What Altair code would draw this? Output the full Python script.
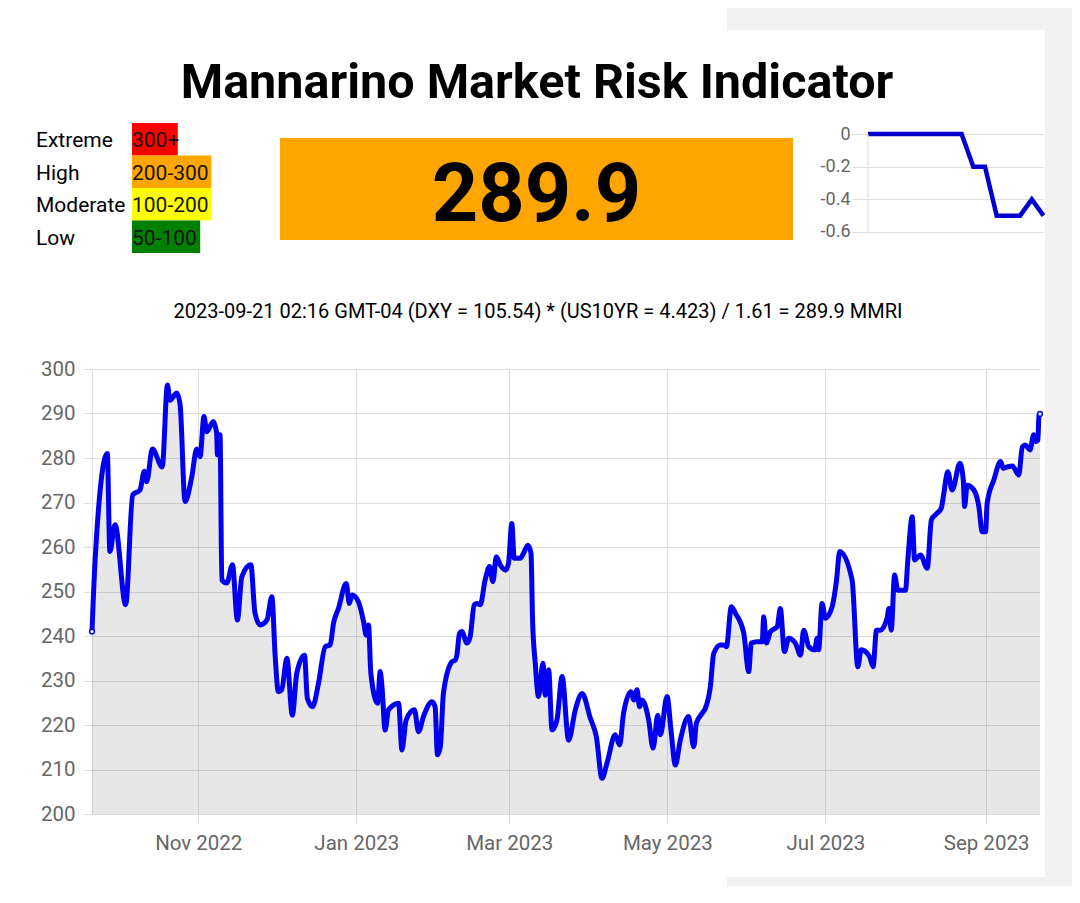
import altair as alt
import pandas as pd

# ---------------- data ----------------
START_DATE = "2022-09-21"
# days since START_DATE for each reading of the MMRI
day_offsets = [
    0.0, 1.2, 5.9, 6.9, 8.9, 13.0, 15.7, 18.5, 20.2, 21.1,
    23.3, 27.1, 29.1, 30.1, 32.7, 34.0, 35.9, 38.5, 40.4, 41.7,
    43.2, 44.3, 46.8, 48.1, 48.4, 49.4, 50.1, 52.0, 54.2, 56.1,
    57.8, 61.3, 62.9, 64.9, 67.5, 69.4, 70.7, 71.9, 73.2, 75.2,
    77.3, 79.0, 82.0, 83.1, 85.1, 87.4, 90.0, 91.9, 93.2, 95.1,
    98.1, 99.3, 100.3, 102.8, 104.8, 105.8, 106.7, 107.6, 110.2, 111.2,
    111.9, 113.1, 114.4, 118.3, 119.6, 121.2, 124.4, 126.0, 127.9, 131.2,
    132.4, 133.3, 134.4, 135.6, 138.9, 140.2, 140.8, 141.8, 142.7, 144.7,
    145.9, 147.5, 148.5, 149.8, 151.7, 153.4, 154.7, 156.0, 157.5, 159.5,
    160.7, 162.0, 162.9, 165.3, 166.5, 168.2, 169.4, 170.0, 171.0, 172.3,
    174.0, 174.9, 176.2, 177.5, 179.4, 181.4, 183.9, 186.5, 189.1, 192.3,
    194.6, 196.8, 198.7, 201.9, 203.6, 205.1, 208.0, 209.0, 210.3, 211.3,
    212.2, 214.8, 216.5, 218.3, 219.3, 221.9, 223.4, 225.1, 227.0, 230.2,
    232.2, 233.2, 235.4, 236.7, 238.6, 239.9, 242.5, 243.7, 244.8, 246.7,
    248.3, 251.5, 253.4, 254.4, 256.6, 258.6, 259.2, 260.2, 261.8, 264.4,
    265.6, 267.2, 268.8, 271.4, 273.4, 274.6, 276.6, 278.9, 279.8, 280.4,
    281.7, 283.0, 285.6, 287.3, 288.5, 293.3, 295.5, 296.8, 300.1, 301.4,
    302.7, 304.2, 306.8, 307.5, 308.4, 309.7, 310.9, 313.9, 314.8, 316.5,
    317.4, 319.7, 322.3, 323.9, 326.1, 327.7, 328.7, 330.2, 331.9, 334.9,
    336.2, 336.7, 337.7, 340.3, 342.2, 343.5, 344.8, 345.4, 348.0, 350.6,
    351.6, 353.2, 355.1, 357.6, 359.0, 360.2, 361.9, 363.4, 364.1, 365.0,
    365.4, 365.8,
]
mmri_values = [
    241, 257, 281, 259, 265, 247, 271.7, 272.8, 277, 274.7,
    282, 278, 296.4, 293, 294.6, 292, 270.2, 275.8, 282, 280.3,
    289.3, 285.9, 288.2, 285.6, 280.7, 285.2, 252.6, 251.9, 256, 243.6,
    253.3, 256, 245.1, 242.5, 243.6, 248.8, 235.3, 227.5, 227.9, 235,
    222.2, 231.6, 235.7, 226, 224.1, 229.4, 237.6, 238, 242.9, 246.2,
    251.8, 247.3, 249.2, 247.7, 243.2, 240.2, 242.5, 231.6, 224.9, 232,
    228.6, 218.9, 223.4, 224.9, 214.4, 221.1, 223.4, 218.5, 221.9, 225.2,
    224.1, 213.3, 215.1, 227.1, 234.2, 234.6, 235.7, 240.6, 241, 238.4,
    239.8, 247, 247.3, 247, 252.6, 255.6, 252.2, 257.8, 256, 254.8,
    256.3, 265.3, 257.5, 257.5, 258.6, 260.4, 258.6, 243.6, 234.2, 226.4,
    233.9, 226.7, 232.4, 218.9, 221.1, 230.9, 216.6, 223.4, 227.1, 221.5,
    217.4, 208, 211.4, 217.8, 215.5, 222.6, 227.5, 225.6, 227.9, 224.1,
    225.6, 221.1, 214.8, 222.2, 217.8, 226.4, 218.9, 211, 216.6, 221.9,
    215.1, 220.4, 222.6, 223.8, 228.6, 236.1, 238, 238, 237.6, 246.6,
    245.1, 240.6, 232, 238.4, 238.7, 238.7, 244.3, 238.4, 241, 242.1,
    246.2, 236.5, 239.5, 238.4, 235.7, 241.3, 237.6, 236.9, 239.5, 236.9,
    247.3, 244, 246.6, 252.6, 259, 252.6, 233.1, 236.9, 235.3, 233.1,
    241.3, 241.3, 244, 246.2, 241.3, 253.7, 250.3, 250.3, 257.1, 266.8,
    257.1, 258.2, 255.2, 266.1, 267.6, 268.7, 272.1, 276.9, 272.8, 278.8,
    275.1, 269.1, 273.9, 272.8, 269.1, 263.4, 263.4, 269.8, 275.1, 279.2,
    277.7, 278, 278.2, 276.2, 282.5, 282.9, 281.8, 285.2, 283.7, 284,
    289.7, 289.9,
]

levels = ["Extreme", "High", "Moderate", "Low"]
level_ranges = ["300+", "200-300", "100-200", "50-100"]
level_lower = [300, 200, 100, 50]
level_colors = ["#ff0000", "#ffa500", "#ffff00", "#008000"]

title_text = "Mannarino Market Risk Indicator"
current_mmri = 289.9
timestamp = "2023-09-21 02:16 GMT-04"
dxy = 105.54
us10yr = 4.423
divisor = 1.61

change_steps = list(range(16))
change_values = [0, 0, 0, 0, 0, 0, 0, 0, 0, -0.2, -0.2, -0.5, -0.5, -0.5, -0.4, -0.5]
change_ticks = [0, -0.2, -0.4, -0.6]

month_ticks = [(2022, 11), (2023, 1), (2023, 3), (2023, 5), (2023, 7), (2023, 9)]
y_ticks = list(range(200, 301, 10))

# ---------------- styling ----------------
FONT = "Roboto"
GRID = "#dddddd"
LABEL = "#666666"
LINE_BLUE = "#0000ee"
BG_GRAY = "#f1f1f1"

current_color = next(c for lo, c in zip(level_lower, level_colors) if current_mmri >= lo)

# ---------------- legend (risk levels) ----------------
legend_df = pd.DataFrame({"level": levels, "range": level_ranges, "color": level_colors})
ly = alt.Y("level:N", sort=levels,
           scale=alt.Scale(domain=levels, paddingInner=0, paddingOuter=0), axis=None)
legend_base = alt.Chart(legend_df).encode(y=ly)
legend_rects = legend_base.transform_calculate(
    x0="40", x1="41 + 11.2 * length(datum.range)"
).mark_rect().encode(
    x=alt.X("x0:Q", scale=alt.Scale(domain=[0, 113], nice=False, zero=False), axis=None),
    x2="x1:Q",
    color=alt.Color("color:N", scale=None, legend=None),
)
legend_names = legend_base.mark_text(
    align="left", baseline="middle", fontSize=21, dy=2, color="#000000"
).encode(x=alt.value(-56), text="level:N")
legend_range_txt = legend_base.mark_text(
    align="left", baseline="middle", fontSize=21, dy=2, color="#141414"
).encode(x=alt.value(40), text="range:N")
legend = alt.layer(legend_rects, legend_names, legend_range_txt).properties(width=113, height=130)

# ---------------- big value box + title ----------------
box_df = pd.DataFrame({"mmri": [current_mmri], "color": [current_color], "title": [title_text]})
box_rect = alt.Chart(box_df).mark_rect().encode(
    x=alt.value(0), x2=alt.value(513), y=alt.value(15), y2=alt.value(117),
    color=alt.Color("color:N", scale=None, legend=None),
)
box_value = alt.Chart(box_df).mark_text(
    fontSize=81, fontWeight="bold", align="center", baseline="alphabetic", color="#000000"
).encode(x=alt.value(256.5), y=alt.value(98), text=alt.Text("mmri:Q", format=".1f"))
box_title = alt.Chart(box_df).mark_text(
    fontSize=48.5, fontWeight="bold", align="center", baseline="alphabetic", color="#000000"
).encode(x=alt.value(257), y=alt.value(-25), text="title:N")
box = alt.layer(box_rect, box_value, box_title).properties(width=513, height=130)

# ---------------- mini change chart ----------------
mini_df = pd.DataFrame({"step": change_steps, "change": change_values})
mini_y = alt.Y(
    "change:Q",
    scale=alt.Scale(domain=[-0.7286, 0.0674], nice=False, zero=False),
    axis=alt.Axis(values=change_ticks, title=None, domain=False, grid=True,
                  gridColor=GRID, tickColor=GRID, tickSize=16, labelPadding=2,
                  labelFontSize=18, labelColor=LABEL,
                  labelExpr="datum.value == 0 ? '0' : '-' + format(abs(datum.value), '.1f')"),
)
mini_rule = alt.Chart(pd.DataFrame({"top": [max(change_ticks)], "bottom": [min(change_ticks)]})).mark_rule(
    color=GRID
).encode(x=alt.value(0), y=alt.Y("top:Q"), y2="bottom:Q")
mini_line = alt.Chart(mini_df).mark_line(color="#0000cc", strokeWidth=4.5).encode(
    x=alt.X("step:Q", scale=alt.Scale(domain=[0, 15], nice=False, zero=False), axis=None),
    y=mini_y,
)
mini = alt.layer(mini_line, mini_rule).properties(width=175.5, height=130)

# ---------------- main chart ----------------
start = pd.Timestamp(START_DATE)
df = pd.DataFrame({
    "date": start + pd.to_timedelta(day_offsets, unit="D"),
    "mmri": mmri_values,
})
end = df["date"].iloc[-1]

def dt(ts):
    return alt.DateTime(year=ts.year, month=ts.month, date=ts.day,
                        hours=ts.hour, minutes=ts.minute)

x_enc = alt.X(
    "date:T",
    scale=alt.Scale(domain=[dt(start), dt(end)], nice=False),
    axis=alt.Axis(values=[alt.DateTime(year=y, month=m, date=1) for y, m in month_ticks],
                  format="%b %Y", title=None, domain=False, grid=True,
                  gridColor=GRID, tickColor=GRID, tickSize=10, labelPadding=9,
                  labelFontSize=20.5, labelColor=LABEL),
)
y_enc = alt.Y(
    "mmri:Q",
    scale=alt.Scale(domain=[min(y_ticks), max(y_ticks)], nice=False, zero=False),
    axis=alt.Axis(values=y_ticks, title=None, domain=True, domainColor=GRID,
                  gridColor=GRID, tickColor=GRID, tickSize=9, labelPadding=8,
                  labelFontSize=20.5, labelColor=LABEL),
)
base = alt.Chart(df).encode(x=x_enc, y=y_enc)
area = base.mark_area(interpolate="monotone", color="#888888", opacity=0.2).encode(
    y2=alt.datum(min(y_ticks)))
line = base.mark_line(interpolate="monotone", color=LINE_BLUE, strokeWidth=5)
ends = alt.Chart(df.iloc[[0, -1]]).mark_point(
    shape="circle", size=22, filled=True, fill="white", stroke=LINE_BLUE, strokeWidth=1.5, opacity=1
).encode(x=x_enc, y=y_enc)

subtitle = f"{timestamp} (DXY = {dxy}) * (US10YR = {us10yr}) / {divisor} = {current_mmri} MMRI"
sub = alt.Chart(pd.DataFrame({"t": [subtitle]})).mark_text(
    fontSize=20, align="center", baseline="middle", color="#000000"
).encode(x=alt.value(446), y=alt.value(-57), text="t:N")

one = pd.DataFrame({"k": [0]})
def deco(x0, x1, y0, y1, color):
    return alt.Chart(one).mark_rect(color=color).encode(
        x=alt.value(x0), x2=alt.value(x1), y=alt.value(y0), y2=alt.value(y1))

frame_top = deco(635, 980, -361, -339, BG_GRAY)
frame_right = deco(953, 980, -339, 517, BG_GRAY)
frame_bottom = deco(635, 953, 508, 517, BG_GRAY)
frame_left = deco(-84, -83, 0, 1, "#ffffff")

main = alt.layer(area, line, ends, sub, frame_top, frame_right, frame_bottom, frame_left).properties(
    width=948, height=445)

top_row = alt.hconcat(legend, box, mini, spacing=75, bounds="flush")
# the nested row counts as zero height in a flush layout, so the gap includes its 130px
chart = alt.vconcat(top_row, main, spacing=246, bounds="flush").properties(
    padding=0
).configure(font=FONT).configure_view(strokeWidth=0)

chart.save("out.html", embed_options={"renderer": "svg", "actions": False})
